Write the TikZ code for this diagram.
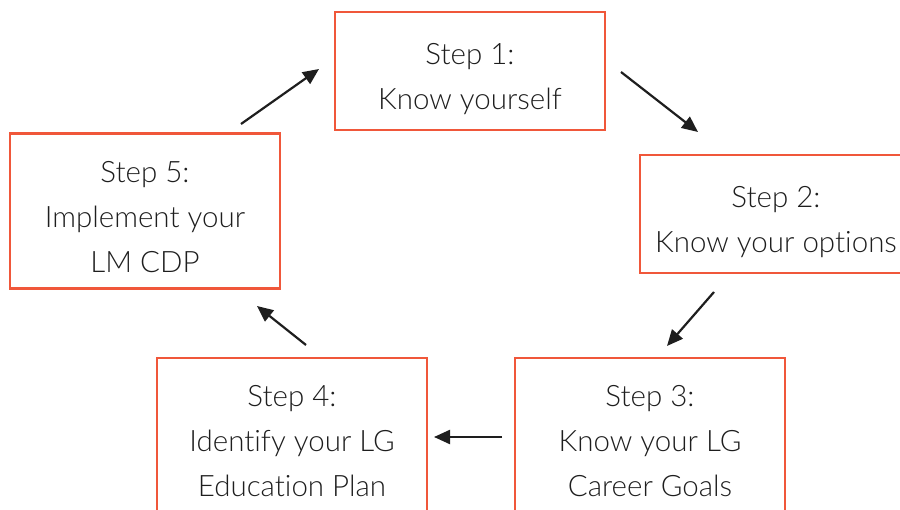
\documentclass[tikz,border=0pt]{standalone}
\usepackage{fontspec}
\setmainfont{Lato Light}[Ligatures=NoCommon]
\usetikzlibrary{arrows.meta}
\definecolor{stepred}{HTML}{F0573A}
\definecolor{ink}{HTML}{1E1E1E}
\begin{document}
\begin{tikzpicture}[x=1pt,y=-1pt,
  stepbox/.style={draw=stepred,line width=2.6pt,rectangle,inner sep=0pt},
  steptext/.style={align=center,text=ink,font=\fontsize{29.5}{45}\selectfont,inner sep=0pt},
  flow/.style={draw=ink,line width=2.2pt,-{Triangle[length=16pt,width=14pt]}}]
\useasboundingbox (0,0) rectangle (900,510);
\clip (0,0) rectangle (900,510);
% boxes
\node[stepbox,minimum width=270,minimum height=118] (b1) at (470,71) {};
\node[stepbox,minimum width=272,minimum height=118] (b2) at (776,214) {};
\node[stepbox,minimum width=270,minimum height=180] (b3) at (650,448) {};
\node[stepbox,minimum width=270,minimum height=180] (b4) at (292,448) {};
\node[stepbox,minimum width=270,minimum height=155] (b5) at (145,211) {};
% labels
\node[steptext] (t1) at (470,79) {Step 1:\\Know yourself};
\node[steptext] (t2) at (776,222) {Step 2:\\Know your options};
\node[steptext] (t3) at (650,441) {Step 3:\\Know your LG\\Career Goals};
\node[steptext] (t4) at (292,441) {Step 4:\\Identify your LG\\Education Plan};
\node[steptext] (t5) at (145,217) {Step 5:\\Implement your\\LM CDP};
% arrow ends
\coordinate (a1s) at (621,72);  \coordinate (a1e) at (698,132);
\coordinate (a2s) at (714,292); \coordinate (a2e) at (667,346);
\coordinate (a3s) at (502,437); \coordinate (a3e) at (434,437);
\coordinate (a4s) at (306,345); \coordinate (a4e) at (257,306);
\coordinate (a5s) at (241,124); \coordinate (a5e) at (319,69);
\draw[flow] (a1s) -- (a1e);
\draw[flow] (a2s) -- (a2e);
\draw[flow] (a3s) -- (a3e);
\draw[flow] (a4s) -- (a4e);
\draw[flow] (a5s) -- (a5e);
\end{tikzpicture}
\end{document}
